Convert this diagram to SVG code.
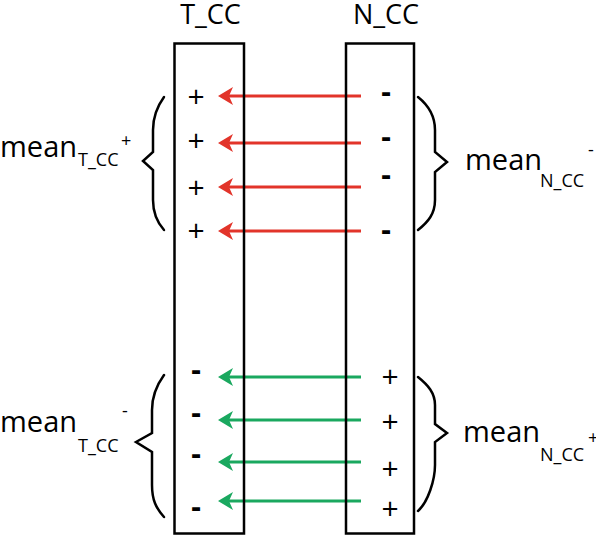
<svg xmlns="http://www.w3.org/2000/svg" width="596" height="537" viewBox="0 0 596 537">
<style>
text{font-family:"Open Sans","Noto Sans","DejaVu Sans",sans-serif;fill:#000}
.title{font-size:27px;text-anchor:middle}
.main{font-size:29px}
.sub{font-size:18px}
.sign{font-size:30px;text-anchor:middle}
.minus{font-size:30px;text-anchor:middle;font-weight:700}
.box{fill:none;stroke:#000;stroke-width:2.5}
.brace{fill:none;stroke:#000;stroke-width:2.5;stroke-linejoin:miter;stroke-linecap:round}
.red{stroke:#e2342a;stroke-width:3;fill:none}
.green{stroke:#1aa85f;stroke-width:3;fill:none}
</style>
<defs>
<marker id="ahR" markerUnits="userSpaceOnUse" markerWidth="18" markerHeight="20" refX="4" refY="0" viewBox="0 -10 18 20" orient="auto" overflow="visible">
<path d="M0,-9 L15,0 L0,9 L4,0 Z" fill="#e2342a"/>
</marker>
<marker id="ahG" markerUnits="userSpaceOnUse" markerWidth="18" markerHeight="20" refX="4" refY="0" viewBox="0 -10 18 20" orient="auto" overflow="visible">
<path d="M0,-9 L15,0 L0,9 L4,0 Z" fill="#1aa85f"/>
</marker>
</defs>
<g id="connectors">
<line class="red" x1="361" y1="96" x2="229" y2="96" marker-end="url(#ahR)"/>
<line class="red" x1="361" y1="143" x2="229" y2="143" marker-end="url(#ahR)"/>
<line class="red" x1="361" y1="187" x2="229" y2="187" marker-end="url(#ahR)"/>
<line class="red" x1="361" y1="231" x2="229" y2="231" marker-end="url(#ahR)"/>
<line class="green" x1="361" y1="377" x2="229" y2="377" marker-end="url(#ahG)"/>
<line class="green" x1="361" y1="420" x2="229" y2="420" marker-end="url(#ahG)"/>
<line class="green" x1="361" y1="462" x2="229" y2="462" marker-end="url(#ahG)"/>
<line class="green" x1="361" y1="501" x2="229" y2="501" marker-end="url(#ahG)"/>
</g>
<g id="T_CC">
<text class="title" x="210.5" y="24">T_CC</text>
<rect class="box" x="174.5" y="43.5" width="69.5" height="490"/>
<text class="sign" x="196" y="107">+</text>
<text class="sign" x="196" y="151">+</text>
<text class="sign" x="196" y="198">+</text>
<text class="sign" x="196" y="241">+</text>
<text class="minus" x="196" y="380">-</text>
<text class="minus" x="196" y="423">-</text>
<text class="minus" x="196" y="464">-</text>
<text class="minus" x="196" y="517">-</text>
</g>
<g id="N_CC">
<text class="title" x="386" y="24">N_CC</text>
<rect class="box" x="346" y="43.5" width="68" height="490"/>
<text class="minus" x="386" y="102">-</text>
<text class="minus" x="386" y="147">-</text>
<text class="minus" x="386" y="185">-</text>
<text class="minus" x="386" y="240">-</text>
<text class="sign" x="390" y="387">+</text>
<text class="sign" x="390" y="432">+</text>
<text class="sign" x="390" y="479">+</text>
<text class="sign" x="390" y="519">+</text>
</g>
<g id="mean_T_CC_plus">
<path class="brace" d="M164,97 C156,108 153,118 153,130 L153,152 L143,161 L153,170 L153,200 C153,212 156,221 164,230"/>
<text class="main" x="0" y="157">mean</text>
<text class="sub" x="78" y="166">T_CC</text>
<text class="sub" x="121" y="147">+</text>
</g>
<g id="mean_N_CC_minus">
<path class="brace" d="M418,97 C428,105 435,115 435,130 L435,152 L447,162 L435,172 L435,200 C435,214 428,222 418,230"/>
<text class="main" x="465" y="170">mean</text>
<text class="sub" x="540" y="187">N_CC</text>
<text class="sub" x="588" y="156">-</text>
</g>
<g id="mean_T_CC_minus">
<path class="brace" d="M164,375 C156,386 152,396 152,410 L152,433 L136,442 L152,452 L152,485 C152,500 156,508 164,517"/>
<text class="main" x="0" y="432">mean</text>
<text class="sub" x="78" y="452">T_CC</text>
<text class="sub" x="122" y="417">-</text>
</g>
<g id="mean_N_CC_plus">
<path class="brace" d="M418,377 C428,385 435,393 435,405 L435,424 L447,433 L435,442 L435,465 C435,480 428,502 418,511"/>
<text class="main" x="463" y="442">mean</text>
<text class="sub" x="540" y="461">N_CC</text>
<text class="sub" x="588" y="444">+</text>
</g>
</svg>
